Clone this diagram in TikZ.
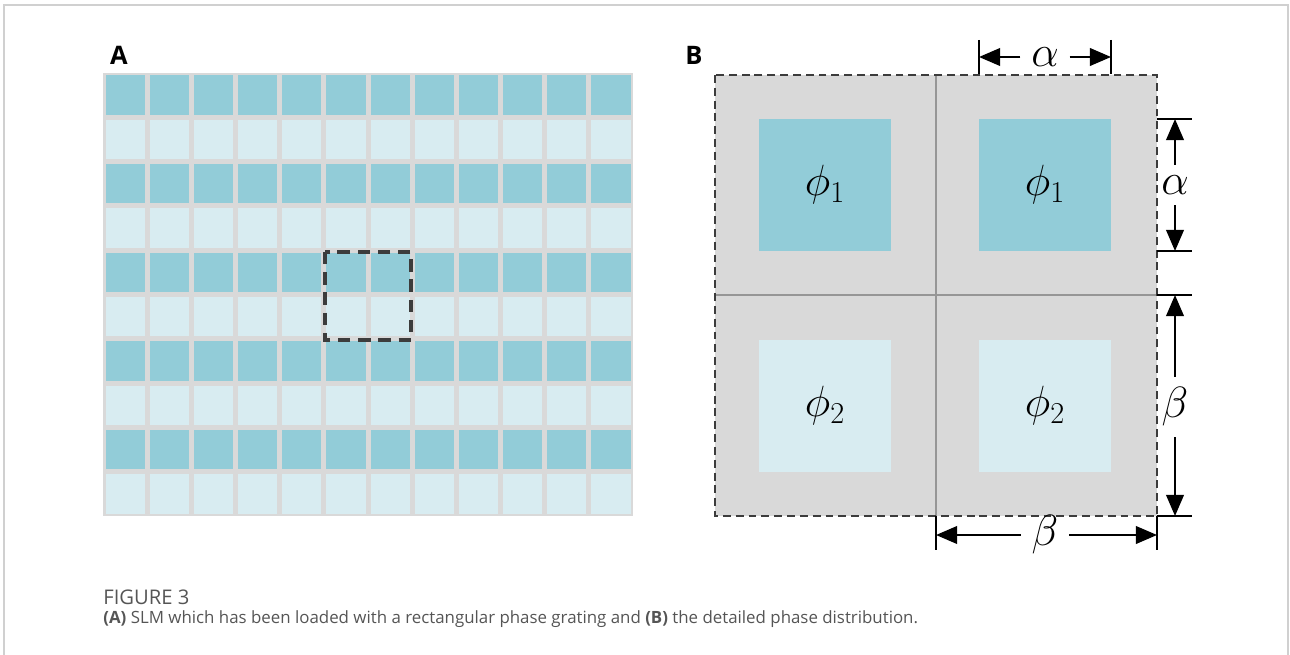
\documentclass[tikz,border=0pt]{standalone}
\usepackage{fontspec}
\setsansfont{Open Sans}
\usetikzlibrary{arrows.meta, positioning}
\definecolor{CellDark}{RGB}{146,204,216}
\definecolor{CellLight}{RGB}{216,236,241}
\definecolor{GridGray}{RGB}{217,217,217}
\definecolor{DashGray}{RGB}{60,60,60}
\definecolor{LineGray}{RGB}{150,150,150}
\definecolor{FrameGray}{RGB}{208,208,208}
\definecolor{CapGray}{RGB}{85,85,85}

\begin{document}
\begin{tikzpicture}[x=0.02cm, y=-0.02cm,
          panellabel/.style={font=\sffamily\bfseries\fontsize{14.5}{16}\selectfont, inner sep=0pt},
          phasebox/.style={rectangle, minimum size=2.64cm, inner sep=0pt, font=\fontsize{26}{30}\selectfont},
          dimlabel/.style={inner sep=6pt, font=\fontsize{26}{30}\selectfont},
          dim/.style={-{Triangle[length=12pt, width=10pt]}, line width=1.2pt},
          tick/.style={line width=1.2pt},
          caption/.style={anchor=west, inner sep=0pt, text=CapGray, font=\sffamily\fontsize{9.6}{11}\selectfont}
        ]
          \useasboundingbox (0,0) rectangle (1290,655);
          % outer frame, open at the bottom
          \draw[FrameGray, line width=1pt] (4,655) -- (4,5) -- (1288,5) -- (1288,655);

          % (A) the SLM grating
          \node[panellabel] (labA) at (119,55) {A};
          \fill[GridGray] (103,73) rectangle (633,516);
          \foreach \r in {0,2,...,8}
            \foreach \c in {0,...,11}
              \fill[CellDark] ({103+\c*44.17+2.5},{73+\r*44.3+2.5}) rectangle ({103+(\c+1)*44.17-2.5},{73+(\r+1)*44.3-2.5});
          \foreach \r in {1,3,...,9}
            \foreach \c in {0,...,11}
              \fill[CellLight] ({103+\c*44.17+2.5},{73+\r*44.3+2.5}) rectangle ({103+(\c+1)*44.17-2.5},{73+(\r+1)*44.3-2.5});
          \draw[DashGray, line width=1.9pt, dash pattern=on 7pt off 4.5pt] (325,252) rectangle (411,340);

          % (B) one period of the phase distribution
          \node[panellabel] (labB) at (694,55) {B};
          \fill[GridGray] (715,75) rectangle (1157,516);
          \draw[LineGray, line width=0.6pt] (936,75) -- (936,516);
          \draw[LineGray, line width=0.6pt] (715,295) -- (1157,295);
          \draw[DashGray, line width=1.1pt, dash pattern=on 4.5pt off 2.8pt] (715,75) rectangle (1157,516);

          \node[phasebox, fill=CellDark] (phiTL) at (825,185) {$\phi_1$};
          \node[phasebox, fill=CellDark] (phiTR) at (1045,185) {$\phi_1$};
          \node[phasebox, fill=CellLight] (phiBL) at (825,406) {$\phi_2$};
          \node[phasebox, fill=CellLight] (phiBR) at (1045,406) {$\phi_2$};

          % dimension marks
          \draw[tick] (979,40) -- (979,74);
          \draw[tick] (1111,40) -- (1111,74);
          \coordinate (topL) at (979,57);
          \coordinate (topR) at (1111,57);
          \node[dimlabel] (alphaTop) at (1045,57) {$\alpha$};
          \draw[dim] (alphaTop.west) -- (topL);
          \draw[dim] (alphaTop.east) -- (topR);

          \draw[tick] (1157,119) -- (1192,119);
          \draw[tick] (1157,251) -- (1192,251);
          \coordinate (rightAT) at (1175,119);
          \coordinate (rightAB) at (1175,251);
          \node[dimlabel] (alphaRight) at (1175,185) {$\alpha$};
          \draw[dim] (alphaRight.north) -- (rightAT);
          \draw[dim] (alphaRight.south) -- (rightAB);

          \draw[tick] (1157,295) -- (1192,295);
          \draw[tick] (1157,516) -- (1192,516);
          \coordinate (rightBT) at (1175,295);
          \coordinate (rightBB) at (1175,516);
          \node[dimlabel] (betaRight) at (1175,407) {$\beta$};
          \draw[dim] (betaRight.north) -- (rightBT);
          \draw[dim] (betaRight.south) -- (rightBB);

          \draw[tick] (936,516) -- (936,550);
          \draw[tick] (1157,516) -- (1157,550);
          \coordinate (botL) at (936,535);
          \coordinate (botR) at (1157,535);
          \node[dimlabel] (betaBottom) at (1045,535) {$\beta$};
          \draw[dim] (betaBottom.west) -- (botL);
          \draw[dim] (betaBottom.east) -- (botR);

          % caption
          \node[caption, font=\sffamily\fontsize{11.5}{13}\selectfont] (capTitle) at (103,597) {FIGURE 3};
          \node[caption] (capText) at (103,619) {\textbf{(A)} SLM which has been loaded with a rectangular phase grating and \textbf{(B)} the detailed phase distribution.};
        \end{tikzpicture}
\end{document}
